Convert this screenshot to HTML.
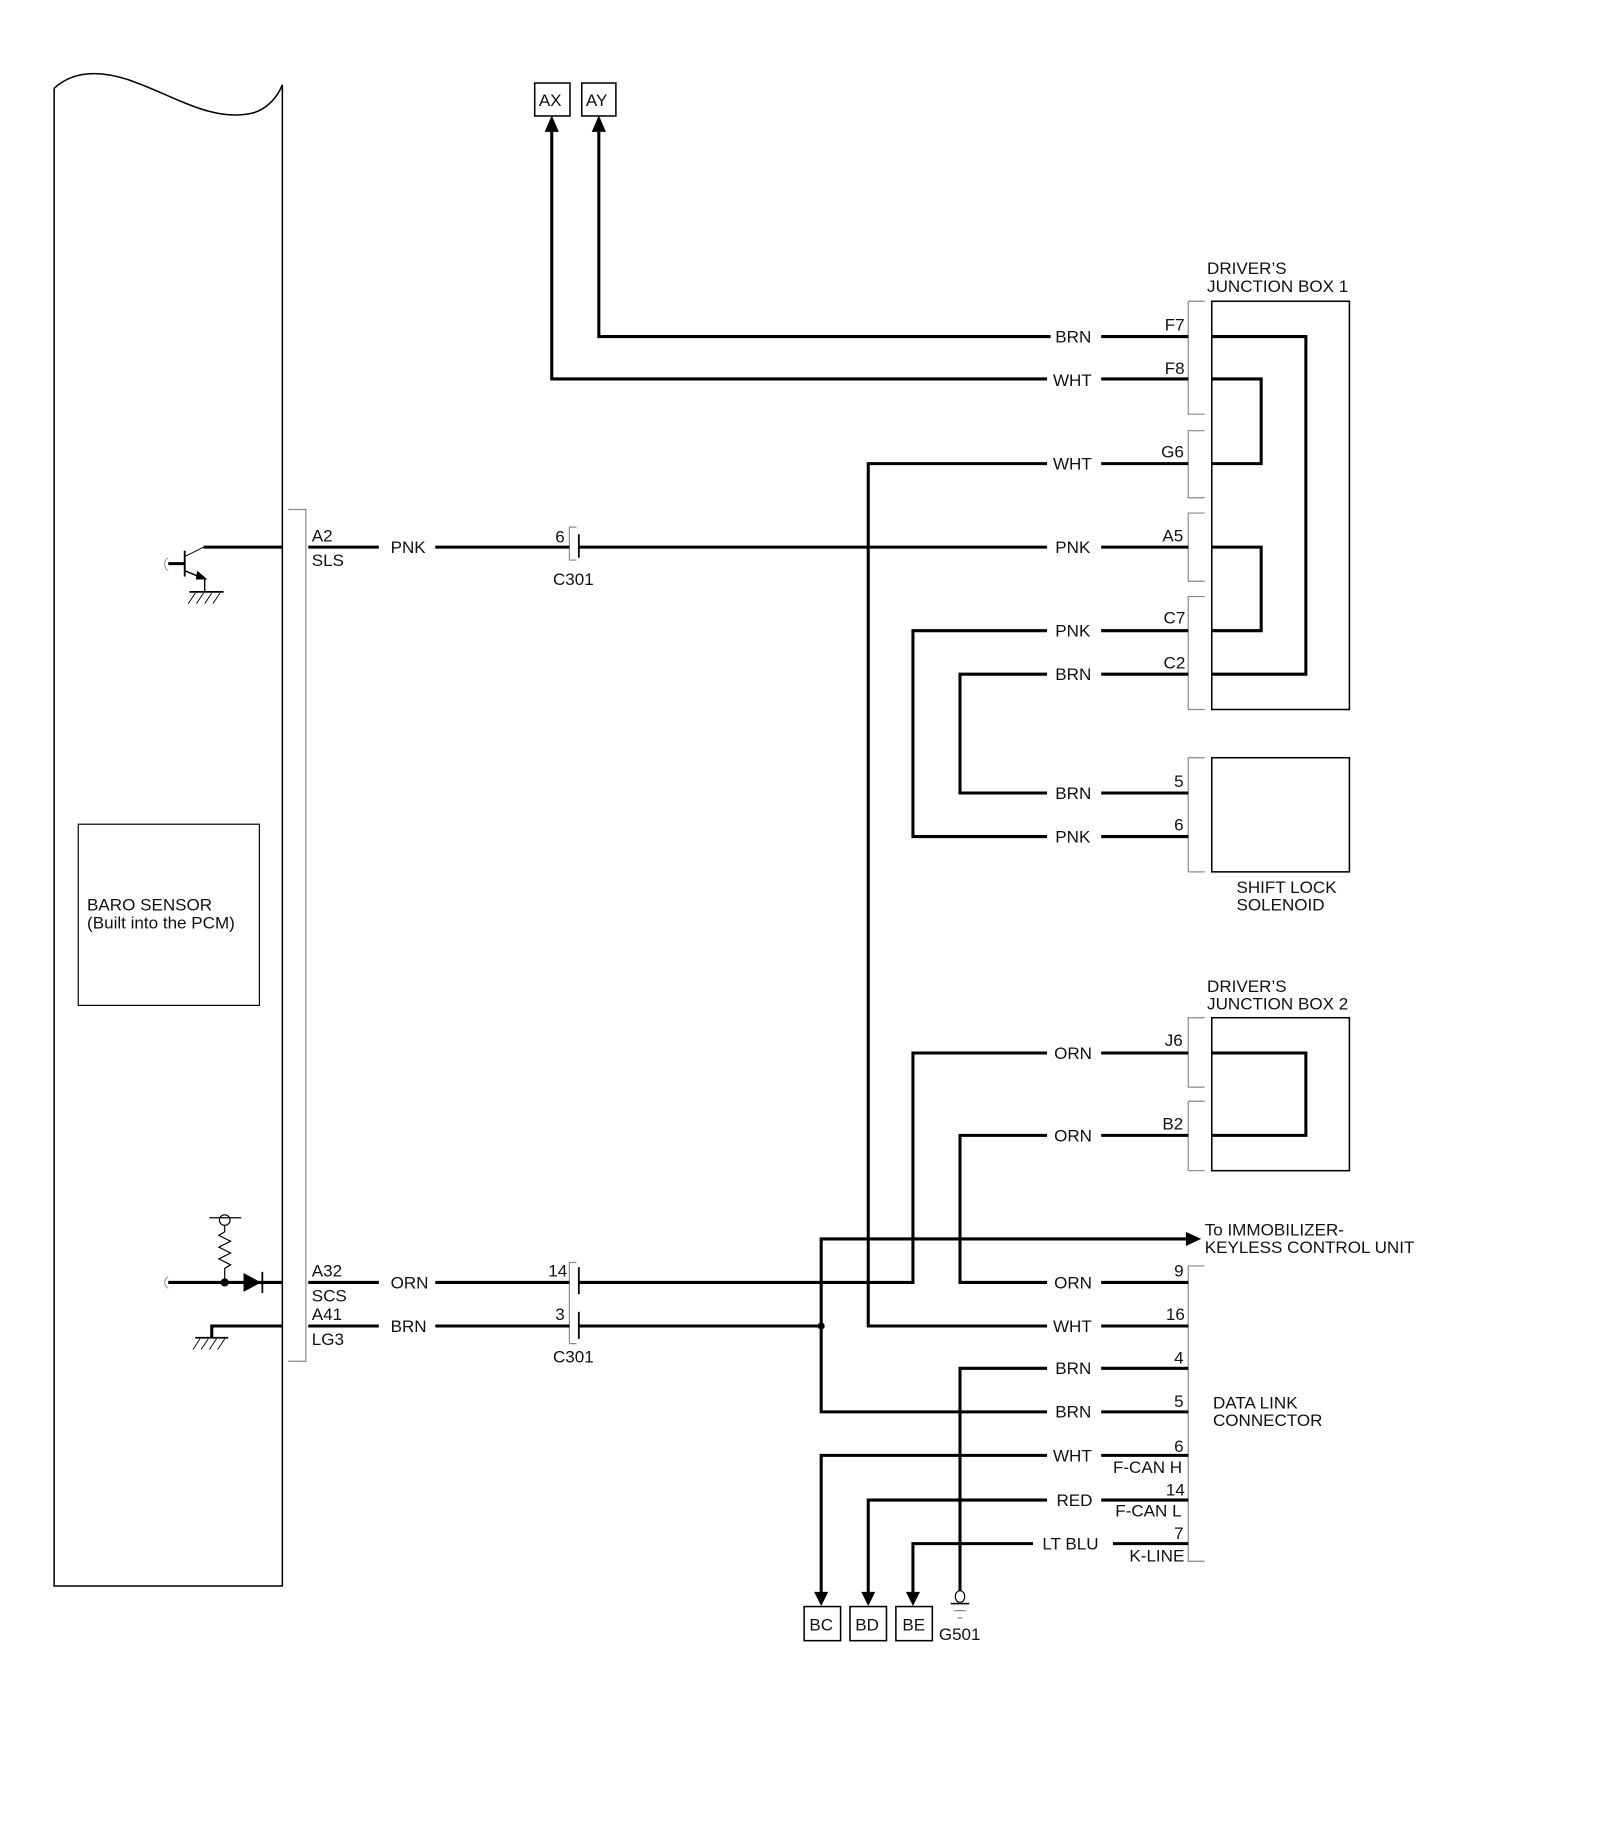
<!DOCTYPE html>
<html><head><meta charset="utf-8"><style>
html,body{margin:0;padding:0;background:#fff;}
svg{display:block;}
text{font-family:"Liberation Sans",Arial,sans-serif;font-size:14.5px;fill:#111;}
</style></head><body>
<svg width="1600" height="1839" viewBox="0 0 1360 1563" xmlns="http://www.w3.org/2000/svg">
<defs>
<marker id="ar" markerWidth="10" markerHeight="12" refX="9" refY="6" orient="auto" markerUnits="userSpaceOnUse"><path d="M0,0 L10,6 L0,12 Z" fill="#000"/></marker>
</defs>
<g fill="none" stroke="#000">
<!-- PCM -->
<path d="M46,75 C60,62 80,58 110,68 C150,82 180,104 215,96 C228,92 236,82 240,72" stroke-width="1.3"/>
<path d="M46,75 V1348 H240 V72" stroke-width="1.3"/>
<rect x="66.5" y="700.5" width="154" height="154" stroke-width="1"/>
<!-- PCM connector bracket -->
<path d="M245,433 H260 V1157 H245" stroke="#888" stroke-width="1"/>
<!-- C301 brackets -->
<path d="M490,448 H484 V476 H490" stroke="#888" stroke-width="1"/>
<path d="M490,1073 H484 V1142 H490" stroke="#888" stroke-width="1"/>
<g stroke-width="1.5"><line x1="492" y1="454" x2="492" y2="474"/><line x1="492" y1="1077" x2="492" y2="1100"/><line x1="492" y1="1115" x2="492" y2="1138"/></g>
<!-- JB1 brackets -->
<g stroke="#888" stroke-width="1">
<path d="M1024,256 H1010 V352 H1024"/><path d="M1024,366 H1010 V423 H1024"/>
<path d="M1024,436 H1010 V494 H1024"/><path d="M1024,507 H1010 V603 H1024"/>
<path d="M1024,644 H1010 V741 H1024"/>
<path d="M1024,865 H1010 V924 H1024"/><path d="M1024,936 H1010 V995 H1024"/>
<path d="M1024,1076 H1010 V1327 H1024"/>
</g>
<g stroke-width="1.3">
<rect x="1030" y="256" width="117" height="347"/>
<rect x="1030" y="644" width="117" height="97"/>
<rect x="1030" y="865" width="117" height="130"/>
<rect x="454.5" y="70.5" width="30" height="28"/>
<rect x="494.5" y="70.5" width="29" height="28"/>
<rect x="683.5" y="1365.5" width="31" height="29"/>
<rect x="722.5" y="1365.5" width="31" height="29"/>
<rect x="761.5" y="1365.5" width="31" height="29"/>
</g>
<!-- wires -->
<g stroke-width="2.6">
<path d="M1030,286 H1110 V573 H1030"/>
<path d="M1030,322 H1072 V394 H1030"/>
<path d="M1030,465 H1072 V536 H1030"/>
<path d="M1030,895 H1110 V965 H1030"/>
<path d="M893,286 H509 V112"/><line x1="936" y1="286" x2="1010" y2="286"/>
<path d="M890,322 H469 V112"/><line x1="936" y1="322" x2="1010" y2="322"/>
<path d="M890,394 H738 V1127 H890"/><line x1="936" y1="394" x2="1010" y2="394"/>
<line x1="173" y1="465" x2="240" y2="465"/><line x1="262" y1="465" x2="322" y2="465"/>
<line x1="370" y1="465" x2="484" y2="465"/><line x1="492" y1="465" x2="890" y2="465"/><line x1="936" y1="465" x2="1010" y2="465"/>
<path d="M890,536 H776 V711 H890"/><line x1="936" y1="536" x2="1010" y2="536"/>
<path d="M890,573 H816 V674 H890"/><line x1="936" y1="573" x2="1010" y2="573"/>
<line x1="936" y1="674" x2="1010" y2="674"/><line x1="936" y1="711" x2="1010" y2="711"/>
<path d="M890,895 H776 V1090 H492"/><line x1="936" y1="895" x2="1010" y2="895"/>
<path d="M890,965 H816 V1090 H890"/><line x1="936" y1="965" x2="1010" y2="965"/>
<line x1="936" y1="1090" x2="1010" y2="1090"/><line x1="936" y1="1127" x2="1010" y2="1127"/>
<line x1="143" y1="1090" x2="240" y2="1090"/><line x1="262" y1="1090" x2="322" y2="1090"/><line x1="370" y1="1090" x2="484" y2="1090"/>
<path d="M240,1127 H180 V1137"/><line x1="262" y1="1127" x2="322" y2="1127"/><line x1="370" y1="1127" x2="484" y2="1127"/><line x1="492" y1="1127" x2="698" y2="1127"/>
<path d="M1008,1053 H698 V1200 H890"/><line x1="936" y1="1200" x2="1010" y2="1200"/>
<path d="M890,1163 H816 V1352"/><line x1="936" y1="1163" x2="1010" y2="1163"/>
<path d="M890,1237 H698 V1355"/><line x1="936" y1="1237" x2="1010" y2="1237"/>
<path d="M890,1275 H738 V1355"/><line x1="936" y1="1275" x2="1010" y2="1275"/>
<path d="M878,1312 H776 V1355"/><line x1="946" y1="1312" x2="1010" y2="1312"/>
</g>
<!-- arrowheads -->
<g fill="#000" stroke="none">
<path d="M463,112 L469,98 L475,112 Z"/><path d="M503,112 L509,98 L515,112 Z"/>
<path d="M692,1353 L698,1365 L704,1353 Z"/><path d="M732,1353 L738,1365 L744,1353 Z"/><path d="M770,1353 L776,1365 L782,1353 Z"/>
<path d="M1008,1047 L1021,1053 L1008,1059 Z"/>
<circle cx="698" cy="1127" r="3"/><circle cx="191" cy="1090" r="3.5"/>
<path d="M207,1082 L222,1090 L207,1098 Z"/>
</g>
<!-- diode bar / resistor -->
<line x1="223" y1="1081" x2="223" y2="1099" stroke-width="1.5"/>
<path d="M191,1090 V1078 L196,1075 L186,1070 L196,1065 L186,1060 L196,1055 L186,1050 L191,1047 V1042" stroke-width="1"/>
<circle cx="191" cy="1037" r="4.5" fill="#fff" stroke-width="1"/>
<line x1="178" y1="1035" x2="205" y2="1035" stroke-width="1"/>
<path d="M143,1085 C139,1087 139,1093 143,1095" stroke="#888" stroke-width="0.8"/>
<!-- ground A41 -->
<line x1="166" y1="1137" x2="194" y2="1137" stroke-width="1.5"/>
<path d="M170,1138 L164,1147 M177,1138 L171,1147 M184,1138 L178,1147 M191,1138 L185,1147" stroke-width="0.8"/>
<!-- transistor -->
<line x1="157" y1="468" x2="157" y2="490" stroke-width="1.6"/>
<line x1="143" y1="479" x2="157" y2="479" stroke-width="2.6"/>
<path d="M157,473 L173,465" stroke-width="0.8"/>
<path d="M157,485 L174,492 V503" stroke-width="1.2"/>
<path d="M168,486 L175,492 L167,492 Z" fill="#000"/>
<line x1="161" y1="503" x2="190" y2="503" stroke-width="1.5"/>
<path d="M166,504 L160,513 M173,504 L167,513 M180,504 L174,513 M187,504 L181,513" stroke-width="0.8"/>
<path d="M143,474 C139,476 139,483 143,485" stroke="#888" stroke-width="0.8"/>
<!-- G501 -->
<ellipse cx="816" cy="1357" rx="4" ry="5" stroke-width="1"/>
<line x1="808" y1="1363" x2="824" y2="1363" stroke-width="1.2"/>
<line x1="811" y1="1369" x2="821" y2="1369" stroke="#888" stroke-width="1"/>
<line x1="814" y1="1375" x2="818" y2="1375" stroke="#888" stroke-width="1"/>
</g>
<g>
<text x="458" y="90">AX</text><text x="498" y="90">AY</text>
<text x="1026" y="233">DRIVER’S</text><text x="1026" y="248">JUNCTION BOX 1</text>
<text x="897" y="291">BRN</text><text x="990" y="281">F7</text>
<text x="895" y="328">WHT</text><text x="990" y="318">F8</text>
<text x="895" y="399">WHT</text><text x="987" y="389">G6</text>
<text x="897" y="470">PNK</text><text x="988" y="460">A5</text>
<text x="897" y="541">PNK</text><text x="989" y="530">C7</text>
<text x="897" y="578">BRN</text><text x="989" y="568">C2</text>
<text x="897" y="679">BRN</text><text x="998" y="669">5</text>
<text x="897" y="716">PNK</text><text x="998" y="706">6</text>
<text x="1051" y="759">SHIFT LOCK</text><text x="1051" y="774">SOLENOID</text>
<text x="1026" y="843">DRIVER’S</text><text x="1026" y="858">JUNCTION BOX 2</text>
<text x="896" y="900">ORN</text><text x="990" y="889">J6</text>
<text x="896" y="970">ORN</text><text x="988" y="960">B2</text>
<text x="1024" y="1050">To IMMOBILIZER-</text><text x="1024" y="1065">KEYLESS CONTROL UNIT</text>
<text x="896" y="1095">ORN</text><text x="998" y="1085">9</text>
<text x="895" y="1132">WHT</text><text x="991" y="1122">16</text>
<text x="897" y="1168">BRN</text><text x="998" y="1159">4</text>
<text x="897" y="1205">BRN</text><text x="998" y="1196">5</text>
<text x="1031" y="1197">DATA LINK</text><text x="1031" y="1212">CONNECTOR</text>
<text x="895" y="1242">WHT</text><text x="998" y="1234">6</text><text x="946" y="1252">F-CAN H</text>
<text x="898" y="1280">RED</text><text x="991" y="1271">14</text><text x="948" y="1289">F-CAN L</text>
<text x="886" y="1317">LT BLU</text><text x="998" y="1308">7</text><text x="960" y="1327">K-LINE</text>
<text x="688" y="1386">BC</text><text x="727" y="1386">BD</text><text x="767" y="1386">BE</text>
<text x="798" y="1394">G501</text>
<text x="265" y="460">A2</text><text x="265" y="481">SLS</text><text x="332" y="470">PNK</text>
<text x="472" y="461">6</text><text x="470" y="497">C301</text>
<text x="265" y="1085">A32</text><text x="265" y="1106">SCS</text><text x="332" y="1095">ORN</text>
<text x="265" y="1122">A41</text><text x="265" y="1143">LG3</text><text x="332" y="1132">BRN</text>
<text x="466" y="1085">14</text><text x="472" y="1122">3</text><text x="470" y="1158">C301</text>
<text x="74" y="774">BARO SENSOR</text><text x="74" y="789">(Built into the PCM)</text>
</g>
</svg>
</body></html>
